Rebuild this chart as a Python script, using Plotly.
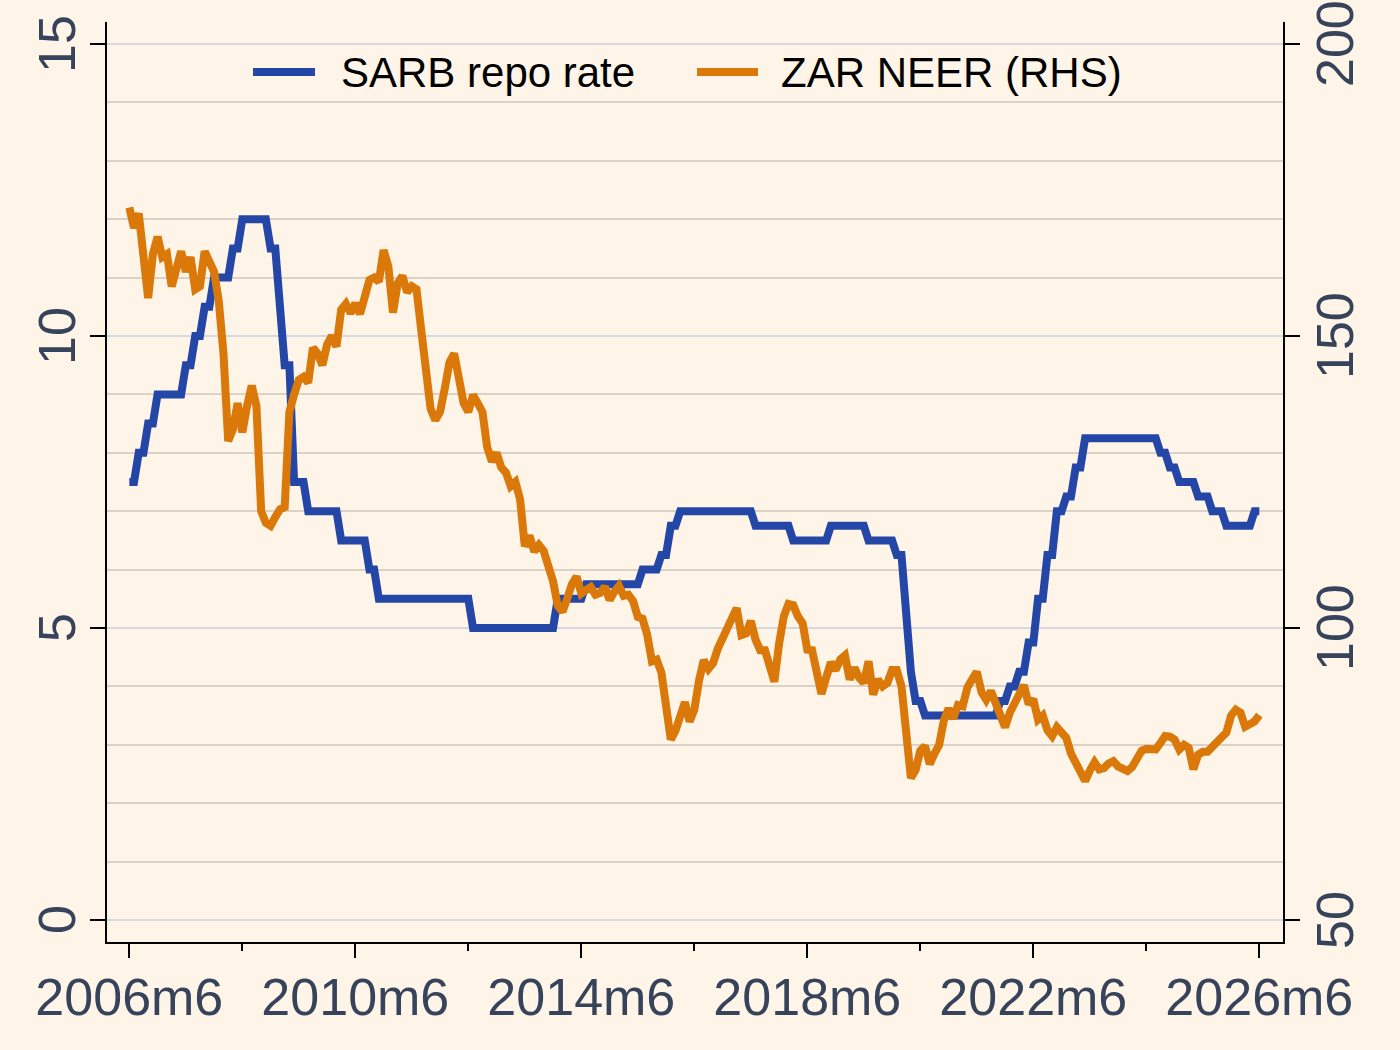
import plotly.graph_objects as go

# ---------------- data (monthly, 2006m6 .. 2026m6) ----------------
month_index = list(range(241))  # 0 = 2006m6
tick_positions = [0, 48, 96, 144, 192, 240]
tick_labels = ["2006m6", "2010m6", "2014m6", "2018m6", "2022m6", "2026m6"]
minor_tick_positions = [24, 72, 120, 168, 216]

repo_rate = [
    7.5, 7.5, 8.0, 8.0, 8.5, 8.5, 9.0, 9.0, 9.0, 9.0, 9.0, 9.0,
    9.5, 9.5, 10.0, 10.0, 10.5, 10.5, 11.0, 11.0, 11.0, 11.0, 11.5, 11.5,
    12.0, 12.0, 12.0, 12.0, 12.0, 12.0, 11.5, 11.5, 10.5, 9.5, 9.5, 7.5,
    7.5, 7.5, 7.0, 7.0, 7.0, 7.0, 7.0, 7.0, 7.0, 6.5, 6.5, 6.5,
    6.5, 6.5, 6.5, 6.0, 6.0, 5.5, 5.5, 5.5, 5.5, 5.5, 5.5, 5.5,
    5.5, 5.5, 5.5, 5.5, 5.5, 5.5, 5.5, 5.5, 5.5, 5.5, 5.5, 5.5,
    5.5, 5.0, 5.0, 5.0, 5.0, 5.0, 5.0, 5.0, 5.0, 5.0, 5.0, 5.0,
    5.0, 5.0, 5.0, 5.0, 5.0, 5.0, 5.0, 5.5, 5.5, 5.5, 5.5, 5.5,
    5.5, 5.75, 5.75, 5.75, 5.75, 5.75, 5.75, 5.75, 5.75, 5.75, 5.75, 5.75,
    5.75, 6.0, 6.0, 6.0, 6.0, 6.25, 6.25, 6.75, 6.75, 7.0, 7.0, 7.0,
    7.0, 7.0, 7.0, 7.0, 7.0, 7.0, 7.0, 7.0, 7.0, 7.0, 7.0, 7.0,
    7.0, 6.75, 6.75, 6.75, 6.75, 6.75, 6.75, 6.75, 6.75, 6.5, 6.5, 6.5,
    6.5, 6.5, 6.5, 6.5, 6.5, 6.75, 6.75, 6.75, 6.75, 6.75, 6.75, 6.75,
    6.75, 6.5, 6.5, 6.5, 6.5, 6.5, 6.5, 6.25, 6.25, 5.25, 4.25, 3.75,
    3.75, 3.5, 3.5, 3.5, 3.5, 3.5, 3.5, 3.5, 3.5, 3.5, 3.5, 3.5,
    3.5, 3.5, 3.5, 3.5, 3.5, 3.75, 3.75, 4.0, 4.0, 4.25, 4.25, 4.75,
    4.75, 5.5, 5.5, 6.25, 6.25, 7.0, 7.0, 7.25, 7.25, 7.75, 7.75, 8.25,
    8.25, 8.25, 8.25, 8.25, 8.25, 8.25, 8.25, 8.25, 8.25, 8.25, 8.25, 8.25,
    8.25, 8.25, 8.25, 8.0, 8.0, 7.75, 7.75, 7.5, 7.5, 7.5, 7.5, 7.25,
    7.25, 7.25, 7.0, 7.0, 7.0, 6.75, 6.75, 6.75, 6.75, 6.75, 6.75, 7.0,
    7.0,
]

zar_neer = [
    172, 168.5, 171, 162, 156.5, 164, 167, 163.5, 164, 158.5, 162, 164.5,
    161, 163.5, 158, 158.5, 164.5, 163, 161, 156, 147, 132, 134, 138.5,
    133.5, 138, 141.5, 138, 120, 118, 117.5, 119, 120.3, 120.7, 137, 140,
    142.5, 143, 142, 148, 147, 145, 148.5, 150, 148.2, 154.5, 155.5, 153.9,
    155.6, 153.8, 157.5, 159.6, 160, 159.3, 164.7, 162, 154, 159, 160.3, 157.5,
    158.5, 158, 151, 142.5, 137.5, 135.6, 137, 141, 145.5, 147, 142, 138.5,
    137, 139.9, 138.5, 137, 131, 128.5, 130, 127.5, 126.6, 124.3, 125, 122,
    114, 115.8, 113.1, 114.2, 113.2, 110.5, 108, 103.8, 102.8, 105, 107.5, 108.8,
    105.9, 106.5, 107, 105.7, 106, 107.1, 104.8, 106.2, 107.2, 105.5, 105.7, 104.6,
    101.9, 101.6, 98.8, 94.3, 94.6, 92.4, 86.8, 80.9, 82.4, 85, 87.3, 84,
    86, 91, 94.5, 93, 94, 96.5, 98.5, 100, 101.7, 103.4, 98.8, 99.1,
    101.2, 98, 96.2, 96.2, 92.9, 90.8, 97.3, 102, 104.1, 103.9, 102, 100.8,
    96.3, 96.2, 92.5, 88.7, 91.5, 94.1, 92.8, 94.6, 95.3, 91.2, 93.2, 91.5,
    90.6, 94.3, 88.6, 91.2, 90, 90.6, 92.8, 92.8, 90, 82.5, 74.3, 75.7,
    79, 79.8, 76.7, 78.5, 80, 84.2, 86.2, 84.5, 86.8, 86.6, 89.8, 91.2,
    92.5, 89, 87.7, 89.2, 87.4, 85, 83, 85.5, 87, 88.5, 90.2, 87,
    87.8, 84.3, 85, 82.5, 81.5, 83, 82.2, 81.2, 78.5, 77, 76, 73.8,
    75.6, 77, 75.8, 76, 76.8, 77.2, 76.3, 76, 75.5, 76.2, 77.5, 79,
    79.3, 79.4, 79.2, 80.3, 81.5, 81.4, 80.9, 79.2, 80, 79.5, 75.8, 78.3,
    78.8, 78.8, 79.5, 80.4, 81.3, 82.1, 85, 86, 85.5, 83.1, 83.7, 84,
    85.1,
]

left_ticks = [0, 5, 10, 15]
right_ticks = [50, 100, 150, 200]
series_names = ["SARB repo rate", "ZAR NEER (RHS)"]

# ---------------- style ----------------
BG = "#FEF4E7"
BLUE = "#2447A7"
ORANGE = "#DA7809"
TICKCOL = "#36435A"
MAJGRID = "#D3D8E2"
MINGRID = "#DCD1C6"
FONT = "Liberation Sans, Arial, sans-serif"
LW = 8
TICKFONT = 52

W, H = 1400, 1050
ML, MR, MT, MB = 107, 117, 22, 108
PW, PH = W - ML - MR, H - MT - MB


def px_to_paper_x(px):
    return (px - ML) / PW


def px_to_paper_y(py):
    return (H - MB - py) / PH


fig = go.Figure()
fig.add_trace(go.Scatter(
    x=month_index, y=repo_rate, name=series_names[0], mode="lines",
    line=dict(color=BLUE, width=LW), yaxis="y", showlegend=False))
fig.add_trace(go.Scatter(
    x=month_index, y=zar_neer, name=series_names[1], mode="lines",
    line=dict(color=ORANGE, width=LW), yaxis="y2", showlegend=False))

shapes = []
annotations = []

# legend (drawn as keys + labels to mimic the long key lines)
legend_y = px_to_paper_y(72)
legend_items = [
    (BLUE, 253, 315, 339, series_names[0]),
    (ORANGE, 697, 758, 779, series_names[1]),
]
for col, x0, x1, xt, label in legend_items:
    shapes.append(dict(type="line", xref="paper", yref="paper",
                       x0=px_to_paper_x(x0), x1=px_to_paper_x(x1),
                       y0=legend_y, y1=legend_y,
                       line=dict(color=col, width=8)))
    annotations.append(dict(xref="paper", yref="paper",
                            x=px_to_paper_x(xt), y=legend_y,
                            xanchor="left", yanchor="middle",
                            text=label, showarrow=False,
                            font=dict(size=42, color="black", family=FONT)))

# rotated y tick labels, centred on their ticks
for v in left_ticks:
    annotations.append(dict(xref="paper", yref="y", x=px_to_paper_x(57), y=v,
                            xanchor="center", yanchor="middle",
                            text=str(v), textangle=-90, showarrow=False,
                            font=dict(size=TICKFONT, color=TICKCOL,
                                      family=FONT)))
for v in right_ticks:
    annotations.append(dict(xref="paper", yref="y2", x=px_to_paper_x(1335),
                            y=v, xanchor="center", yanchor="middle",
                            text=str(v), textangle=-90, showarrow=False,
                            font=dict(size=TICKFONT, color=TICKCOL,
                                      family=FONT)))

fig.update_layout(
    width=W, height=H,
    margin=dict(l=ML, r=MR, t=MT, b=MB, autoexpand=False),
    paper_bgcolor=BG, plot_bgcolor=BG,
    font=dict(family=FONT, color=TICKCOL, size=TICKFONT),
    showlegend=False,
    shapes=shapes, annotations=annotations,
    xaxis=dict(
        range=[-4.74, 245.03], tickmode="array", tickvals=tick_positions,
        ticktext=tick_labels, ticks="outside", ticklen=14, tickwidth=2,
        tickcolor="black", showline=True, linecolor="black", linewidth=2,
        showgrid=False, zeroline=False,
        tickfont=dict(size=TICKFONT, color=TICKCOL),
        ticklabelstandoff=-5, ticklabeloverflow="allow", automargin=False,
        minor=dict(tickmode="array", tickvals=minor_tick_positions,
                   ticks="outside", ticklen=7, tickwidth=2,
                   tickcolor="black", showgrid=False)),
    yaxis=dict(
        range=[-0.3767, 15.3767], tickmode="array", tickvals=left_ticks,
        ticks="outside", ticklen=15, tickwidth=2, tickcolor="black",
        showline=True, linecolor="black", linewidth=2,
        showgrid=True, gridcolor=MAJGRID, gridwidth=1.5, zeroline=False,
        showticklabels=False, automargin=False,
        minor=dict(dtick=1, tick0=0, showgrid=True, gridcolor=MINGRID,
                   gridwidth=1.5, ticks="")),
    yaxis2=dict(
        overlaying="y", side="right", range=[46.233, 203.767],
        tickmode="array", tickvals=right_ticks,
        ticks="outside", ticklen=15, tickwidth=2, tickcolor="black",
        showline=True, linecolor="black", linewidth=2,
        showgrid=False, zeroline=False,
        showticklabels=False, automargin=False),
)

fig.write_html("out.html")
